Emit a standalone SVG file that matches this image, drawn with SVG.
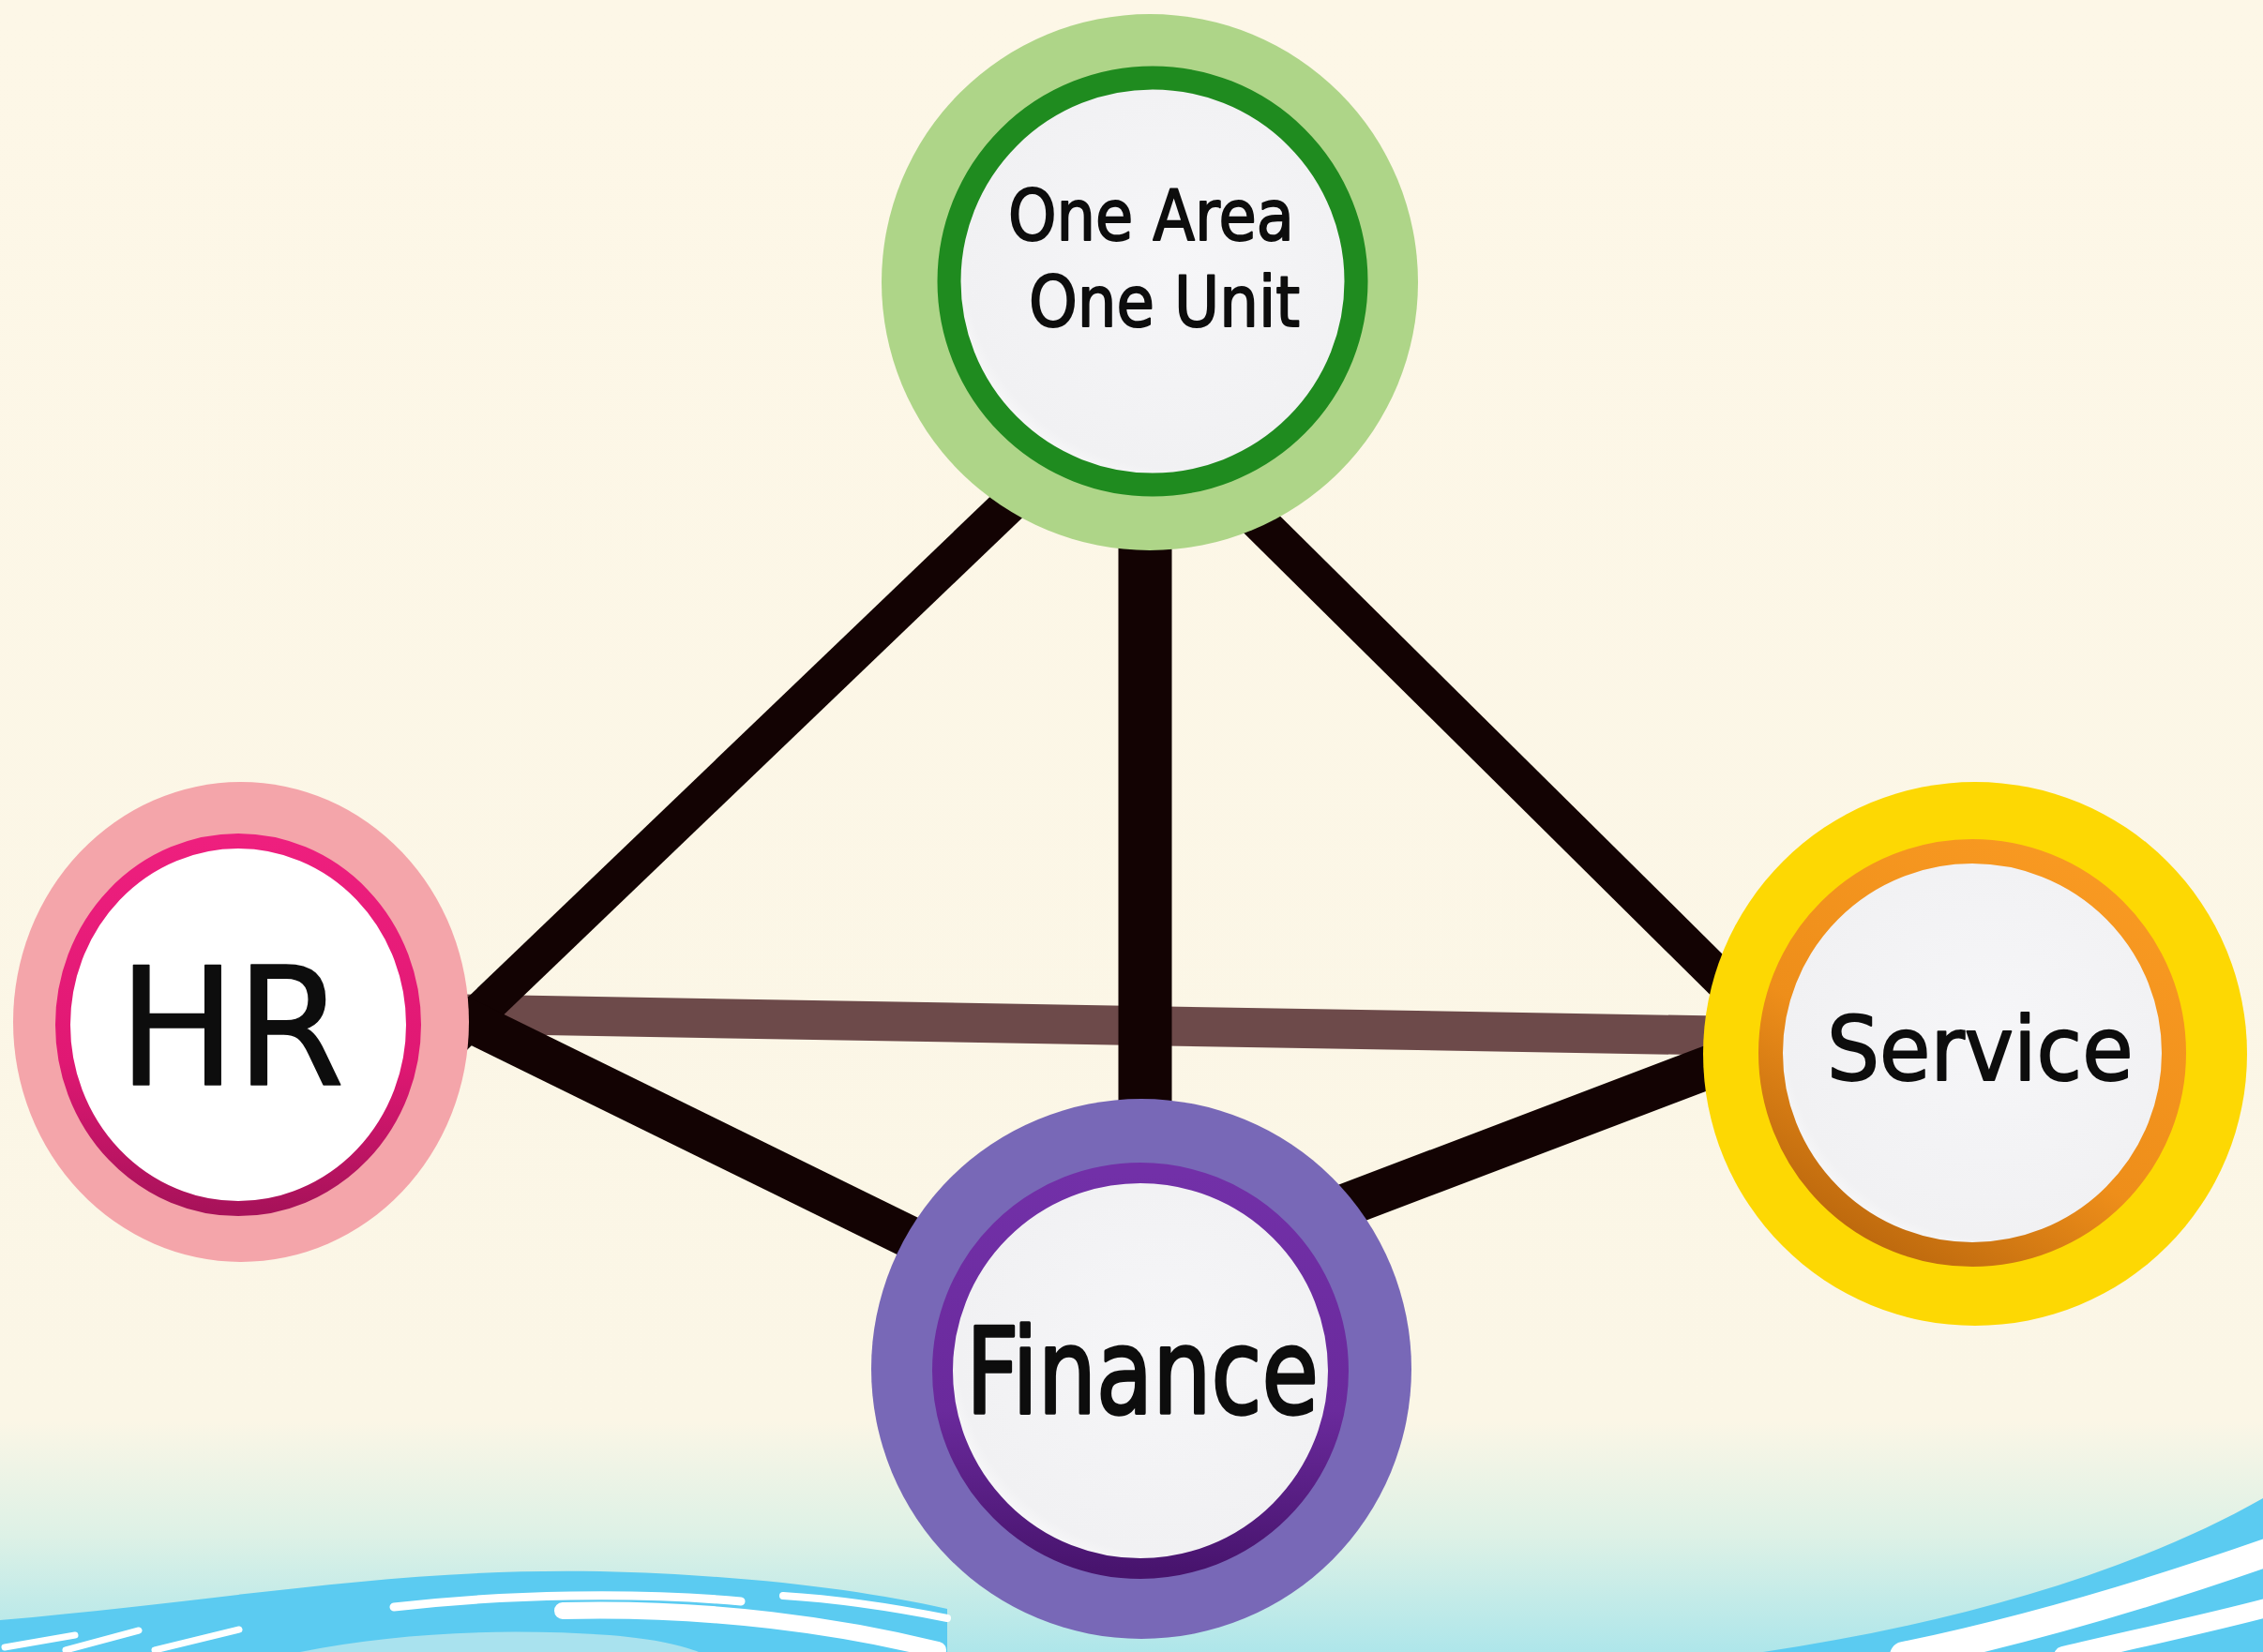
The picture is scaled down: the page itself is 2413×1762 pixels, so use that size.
<svg xmlns="http://www.w3.org/2000/svg" width="2413" height="1762" viewBox="0 0 2413 1762">
  <defs>
    <linearGradient id="bg" x1="0" y1="0" x2="0" y2="1762" gradientUnits="userSpaceOnUse">
      <stop offset="0" stop-color="#FDF7E7"/>
      <stop offset="0.86" stop-color="#FBF6E6"/>
      <stop offset="0.93" stop-color="#DDF1E6"/>
      <stop offset="1" stop-color="#AEE6EA"/>
    </linearGradient>
    <linearGradient id="ringHR" x1="0" y1="0" x2="0" y2="1">
      <stop offset="0" stop-color="#EE1F7E"/>
      <stop offset="0.6" stop-color="#E01873"/>
      <stop offset="1" stop-color="#A8125A"/>
    </linearGradient>
    <linearGradient id="ringSv" x1="0.8" y1="0" x2="0.2" y2="1">
      <stop offset="0" stop-color="#F99A22"/>
      <stop offset="0.6" stop-color="#EE8E1A"/>
      <stop offset="1" stop-color="#B8650C"/>
    </linearGradient>
    <linearGradient id="ringFi" x1="0" y1="0" x2="0" y2="1">
      <stop offset="0" stop-color="#7230A8"/>
      <stop offset="0.6" stop-color="#6A2A9C"/>
      <stop offset="1" stop-color="#48146E"/>
    </linearGradient>
    <radialGradient id="inner" cx="0.55" cy="0.45" r="0.6">
      <stop offset="0" stop-color="#F6F6F8"/>
      <stop offset="0.85" stop-color="#F1F1F3"/>
      <stop offset="1" stop-color="#FFFFFF"/>
    </radialGradient>
    <style>
      .line { stroke: #130303; fill: none; stroke-linecap: butt; }
      .brown { stroke: #6D4A4A; fill: none; }
      .streak { fill: none; stroke: #FFFFFF; stroke-linecap: round; }
    </style>
  </defs>

  <!-- background -->
  <rect x="0" y="0" width="2413" height="1762" fill="url(#bg)"/>

  <!-- bottom waves -->
  <g id="waves">
    <path d="M0,1728 C250,1706 420,1672 640,1676 C800,1680 920,1696 1010,1716 L1010,1762 L0,1762 Z" fill="#5BCBF1"/>
    <path d="M320,1762 C420,1742 530,1736 650,1744 C700,1748 730,1756 745,1762 Z" fill="#A9E2EE"/>
    <path class="streak" d="M420,1714 C540,1700 680,1698 790,1708" stroke-width="9"/>
    <path class="streak" d="M600,1718 C760,1714 900,1735 1000,1760" stroke-width="18"/>
    <path class="streak" d="M835,1702 C900,1706 960,1716 1010,1726" stroke-width="8"/>
    <path class="streak" d="M5,1757 L80,1744" stroke-width="7"/>
    <path class="streak" d="M70,1760 L148,1739" stroke-width="7"/>
    <path class="streak" d="M165,1760 L255,1738" stroke-width="7"/>

    <path d="M1880,1762 C2060,1735 2260,1685 2413,1598 L2413,1762 Z" fill="#5BCBF1"/>
    <path class="streak" d="M2030,1766 C2180,1735 2320,1690 2420,1655" stroke-width="30"/>
    <path class="streak" d="M2200,1766 C2290,1745 2360,1730 2420,1714" stroke-width="20"/>
  </g>

  <!-- connectors -->
  <g id="connectors">
    <line class="brown" x1="460" y1="1081" x2="1860" y2="1105" stroke-width="42"/>
    <line class="line" x1="1100" y1="515" x2="470" y2="1119" stroke-width="40"/>
    <line class="line" x1="1330" y1="544" x2="1860" y2="1069" stroke-width="40"/>
    <line class="line" x1="1221" y1="560" x2="1221" y2="1200" stroke-width="57"/>
    <line class="line" x1="460" y1="1069" x2="975" y2="1322" stroke-width="45"/>
    <line class="line" x1="1870" y1="1120" x2="1420" y2="1291" stroke-width="46"/>
  </g>

  <!-- nodes -->
  <g id="node-one-area" font-family="DejaVu Sans" fill="#0D0D0D">
    <circle cx="1226" cy="301" r="286" fill="#AED588"/>
    <circle cx="1229" cy="300" r="217" fill="url(#inner)" stroke="#1F8B1F" stroke-width="25"/>
    <text font-size="74" stroke="#0D0D0D" stroke-width="2" stroke-linejoin="round" transform="translate(1075,256) scale(0.885,1)">One Area</text>
    <text font-size="74" stroke="#0D0D0D" stroke-width="2" stroke-linejoin="round" transform="translate(1097,348) scale(0.89,1)">One Unit</text>
  </g>

  <g id="node-hr" font-family="DejaVu Sans" fill="#0D0D0D">
    <ellipse cx="257" cy="1090" rx="243" ry="256" fill="#F4A5AA"/>
    <ellipse cx="254" cy="1093" rx="187" ry="196" fill="#FFFFFF" stroke="url(#ringHR)" stroke-width="16"/>
    <text font-size="174" stroke="#0D0D0D" stroke-width="1.5" stroke-linejoin="round" transform="translate(126,1157) scale(0.96,1)">HR</text>
  </g>

  <g id="node-service" font-family="DejaVu Sans" fill="#0D0D0D">
    <circle cx="2106" cy="1124" r="290" fill="#FDD803"/>
    <circle cx="2103" cy="1123" r="215" fill="url(#inner)" stroke="url(#ringSv)" stroke-width="26"/>
    <text font-size="94" stroke="#0D0D0D" stroke-width="2" stroke-linejoin="round" transform="translate(1948,1152) scale(0.94,1)">Service</text>
  </g>

  <g id="node-finance" font-family="DejaVu Sans" fill="#0D0D0D">
    <circle cx="1217" cy="1460" r="288" fill="#7868B7"/>
    <circle cx="1216" cy="1462" r="211" fill="url(#inner)" stroke="url(#ringFi)" stroke-width="22"/>
    <text font-size="126" stroke="#0D0D0D" stroke-width="3.5" stroke-linejoin="round" transform="translate(1030,1507) scale(0.78,1)">Finance</text>
  </g>
</svg>
